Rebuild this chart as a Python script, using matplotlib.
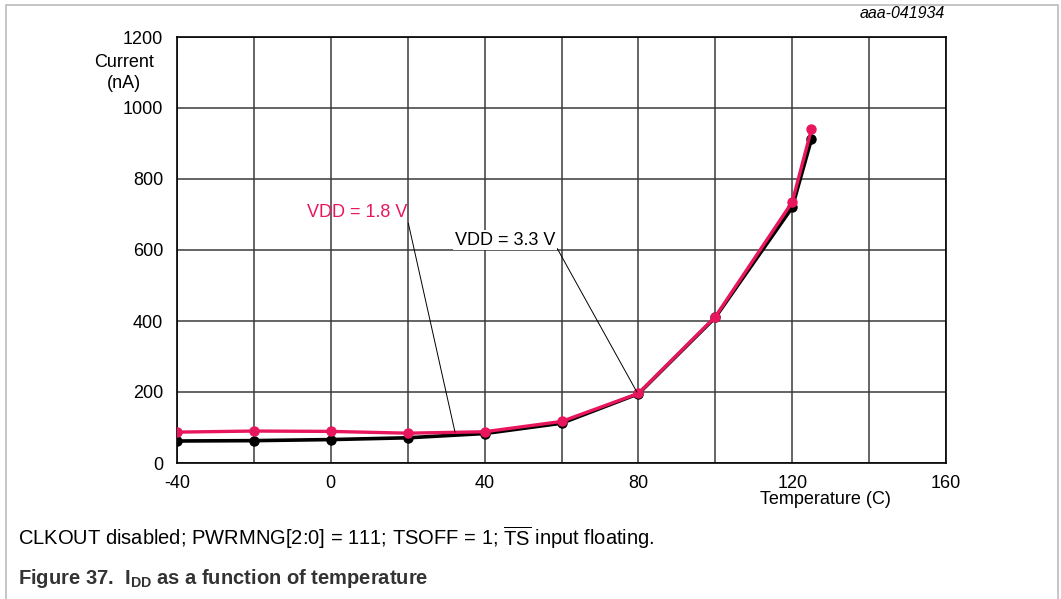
import matplotlib
matplotlib.use("Agg")
import matplotlib.pyplot as plt
from matplotlib.patches import Rectangle

plt.rcParams['font.family'] = ['Liberation Sans', 'DejaVu Sans']
plt.rcParams['mathtext.fontset'] = 'custom'
plt.rcParams['mathtext.rm'] = 'Liberation Sans'
plt.rcParams['mathtext.it'] = 'Liberation Sans:italic'
plt.rcParams['mathtext.bf'] = 'Liberation Sans:bold'
plt.rcParams['axes.unicode_minus'] = False

# ---- data ----
temperature = [-40, -20, 0, 20, 40, 60, 80, 100, 120, 125]
idd_3v3 = [62, 63, 66, 71, 83, 112, 195, 410, 720, 912]
idd_1v8 = [87, 90, 89, 84, 88, 117, 196, 412, 735, 940]
x_ticks = [-40, 0, 40, 80, 120, 160]
y_ticks = [0, 200, 400, 600, 800, 1000, 1200]

W, H = 1061, 599
fig = plt.figure(figsize=(W / 100, H / 100), dpi=100)

def fx(px):
    return px / W

def fy(py):
    return 1 - py / H

L, R, T, B = 177, 946, 37, 463
ax = fig.add_axes([fx(L), fy(B), fx(R - L), (B - T) / H])

RED = '#e8175d'
ax.plot(temperature, idd_3v3, color='black', lw=2.6, marker='o', ms=6.5, zorder=4)
ax.plot(temperature, idd_1v8, color=RED, lw=2.4, marker='o', ms=6.5, zorder=5)

ax.set_xlim(-40, 160)
ax.set_ylim(0, 1200)
ax.set_xticks(x_ticks)
ax.set_xticks(list(range(-40, 161, 20)), minor=True)
ax.set_yticks(y_ticks)
ax.grid(True, which='both', color='#3a3a3a', lw=1.1, zorder=1)
ax.tick_params(which='both', length=0, labelsize=13, pad=9)
ax.tick_params(axis='y', pad=10)
for s in ax.spines.values():
    s.set_color('black')
    s.set_linewidth(1.2)

# annotations
ax.annotate('VDD = 1.8 V', xy=(32.3, 87), xytext=(-6.2, 707), color=RED, fontsize=13,
            va='center', ha='left',
            arrowprops=dict(arrowstyle='-', color='black', lw=0.7, shrinkA=0, shrinkB=0,
                            relpos=(1.0, 0.1)), zorder=6)
ax.annotate('VDD = 3.3 V', xy=(79.6, 200), xytext=(32.3, 628), color='black', fontsize=13,
            va='center', ha='left',
            bbox=dict(boxstyle='square,pad=0.1', fc='white', ec='none'),
            arrowprops=dict(arrowstyle='-', color='black', lw=0.7, shrinkA=0, shrinkB=0,
                            relpos=(1.0, 0.2)), zorder=6)

# axis titles
fig.text(fx(124), fy(73), 'Current\n(nA)', ha='center', va='center', fontsize=13, linespacing=1.25)
fig.text(fx(825), fy(500), 'Temperature (C)', ha='center', va='center', fontsize=13)
fig.text(fx(945), fy(14), 'aaa-041934', ha='right', va='center', fontsize=11.5, style='italic')

# captions
fig.text(fx(18), fy(538), r'CLKOUT disabled; PWRMNG[2:0] = 111; TSOFF = 1; $\overline{\mathrm{TS}}$ input floating.',
         ha='left', va='center', fontsize=14.5)
fig.text(fx(18), fy(578), r'Figure 37.  I$_{\mathbf{DD}}$ as a function of temperature',
         ha='left', va='center', fontsize=14.5, fontweight='bold', color='#333333')

# figure border
fig.add_artist(Rectangle((fx(6), -0.02), fx(1058 - 6), (H - 5) / H + 0.02,
                         transform=fig.transFigure, fill=False, ec='#bbbbbb', lw=1.2))

fig.savefig('out.png', dpi=100)
